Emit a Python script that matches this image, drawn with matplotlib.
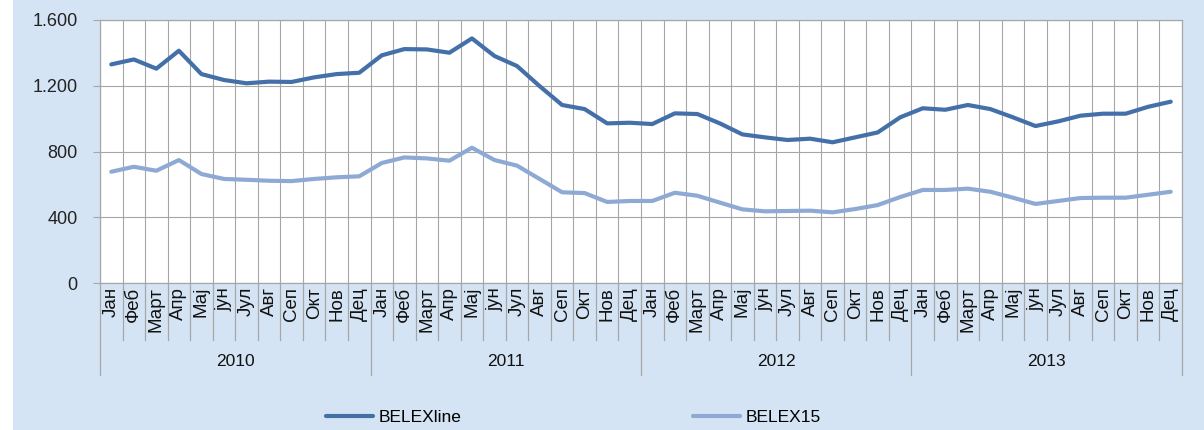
import matplotlib
matplotlib.use("Agg")
import matplotlib.pyplot as plt
from matplotlib.patches import Rectangle
from matplotlib.lines import Line2D
from matplotlib.ticker import FuncFormatter, MultipleLocator
import matplotlib.transforms as mtransforms

months = ["Јан", "Феб", "Март", "Апр", "Мај", "јун", "Јул", "Авг", "Сеп", "Окт", "Нов", "Дец"]
years = ["2010", "2011", "2012", "2013"]

belexline = [1330, 1360, 1304, 1413, 1271, 1235, 1215, 1225, 1223, 1251, 1271, 1279,
             1385, 1423, 1421, 1401, 1488, 1381, 1320, 1198, 1083, 1058, 971, 975,
             967, 1032, 1028, 971, 904, 886, 870, 878, 856, 886, 916, 1008,
             1063, 1054, 1083, 1058, 1008, 955, 983, 1018, 1030, 1030, 1072, 1103]
belex15 = [677, 707, 683, 748, 663, 633, 628, 622, 620, 633, 643, 649,
           730, 764, 758, 744, 823, 748, 714, 633, 552, 547, 493, 499,
           499, 549, 531, 489, 448, 436, 438, 440, 430, 450, 474, 523,
           566, 566, 574, 555, 519, 481, 499, 517, 519, 519, 537, 555]

W, H = 1204, 430
BG = "#d5e4f4"
C1 = "#4470aa"
C2 = "#8eaad4"
GRID = "#a6a6a6"
FONT = ["Liberation Sans", "DejaVu Sans"]

plt.rcParams["font.family"] = FONT

fig = plt.figure(figsize=(W / 100, H / 100), dpi=100)
fig.patch.set_facecolor("white")
fig.add_artist(Rectangle((13 / W, 0), 1 - 13 / W, 1, transform=fig.transFigure,
                         facecolor=BG, edgecolor="none", zorder=-10))

L, R, T, B = 100, 1182, 20, 283
ax = fig.add_axes([L / W, 1 - B / H, (R - L) / W, (B - T) / H])
ax.set_facecolor("white")

n = len(belexline)
xs = [i + 0.5 for i in range(n)]
l1, = ax.plot(xs, belexline, color=C1, lw=3.0, solid_capstyle="round", zorder=3, label="BELEXline")
l2, = ax.plot(xs, belex15, color=C2, lw=3.0, solid_capstyle="round", zorder=3, label="BELEX15")

ax.set_xlim(0, n)
ax.set_ylim(0, 1600)
ax.yaxis.set_major_locator(MultipleLocator(400))
ax.yaxis.set_major_formatter(FuncFormatter(lambda v, p: f"{int(v):,}".replace(",", ".")))
ax.tick_params(axis="y", length=5, width=0.8, color=GRID, pad=11, labelsize=13, labelcolor="#222222")
ax.set_xticks(range(0, n + 1))
ax.tick_params(axis="x", length=0, labelbottom=False)
ax.grid(True, color=GRID, lw=0.8)
ax.set_axisbelow(True)
for s in ax.spines.values():
    s.set_color(GRID)
    s.set_linewidth(0.9)

trans = mtransforms.blended_transform_factory(ax.transData, ax.transAxes)
px = 1.0 / (B - T)
# month labels and separators
for i in range(n):
    ax.text(i + 0.5, -4 * px, months[i % 12], transform=trans, rotation=90,
            ha="center", va="top", fontsize=13.5, color="#111111", clip_on=False)
for k in range(n + 1):
    bottom = -92 * px if k % 12 == 0 else -57 * px
    ax.add_line(Line2D([k, k], [0, bottom], transform=trans, color=GRID, lw=0.9, clip_on=False))
for j, yname in enumerate(years):
    ax.text(j * 12 + 6, -79 * px, yname, transform=trans, ha="center", va="center",
            fontsize=12.5, color="#111111", clip_on=False)

fig.legend(handles=[l1, l2], loc="center left", bbox_to_anchor=(326 / W, 1 - 417 / H),
           ncol=2, frameon=False, fontsize=12.5, handlelength=2.7, handletextpad=0.35,
           columnspacing=13.3, borderpad=0, borderaxespad=0)

fig.savefig("out.png", dpi=100, facecolor=fig.get_facecolor())
